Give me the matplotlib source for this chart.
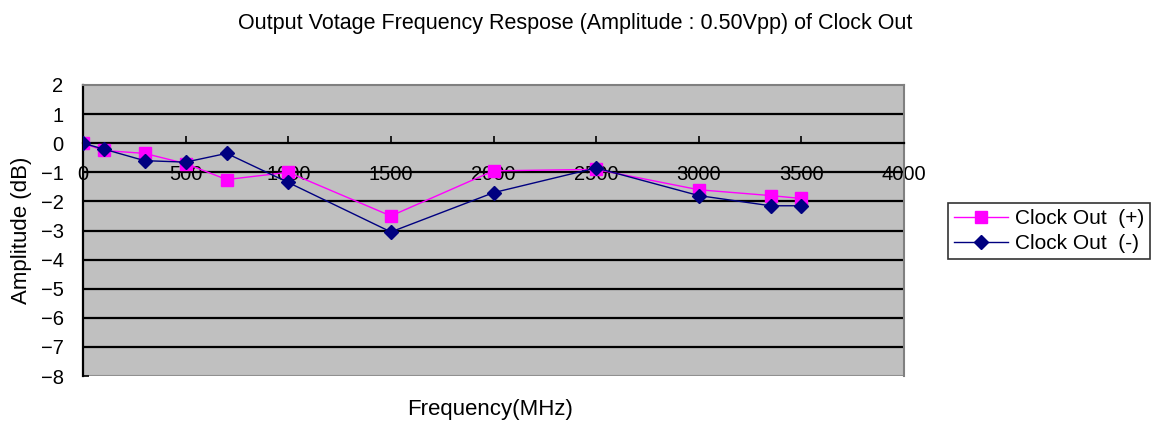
import matplotlib
matplotlib.use("Agg")
import matplotlib.pyplot as plt

freq = [0, 100, 300, 500, 700, 1000, 1500, 2000, 2500, 3000, 3350, 3500]
clk_pos = [0.0, -0.25, -0.35, -0.7, -1.25, -1.0, -2.5, -0.95, -0.9, -1.6, -1.8, -1.9]
clk_neg = [0.0, -0.2, -0.6, -0.65, -0.35, -1.35, -3.05, -1.7, -0.85, -1.8, -2.15, -2.15]
x_ticks = [0, 500, 1000, 1500, 2000, 2500, 3000, 3500, 4000]
y_ticks = [2, 1, 0, -1, -2, -3, -4, -5, -6, -7, -8]

plt.rcParams['font.family'] = ['Liberation Sans', 'Noto Sans CJK JP', 'DejaVu Sans']

fig = plt.figure(figsize=(11.57, 4.22), dpi=100)
ax = fig.add_axes([83/1157, 46/422, (904-83)/1157, (376-85)/422])
ax.set_facecolor('#C0C0C0')
ax.set_xlim(0, 4000)
ax.set_ylim(-8, 2)

for y in y_ticks:
    if y not in (2, -8, 0):
        ax.axhline(y, color='black', lw=1.6, zorder=1)
ax.axhline(-8, color='#909090', lw=1.5, zorder=1)

ax.plot(freq, clk_pos, color='#FF00FF', lw=1.0, marker='s', ms=8,
        mfc='#FF00FF', mec='#FF00FF', label='Clock Out  (+)', zorder=3)
ax.plot(freq, clk_neg, color='#000080', lw=1.0, marker='D', ms=7,
        mfc='#000080', mec='#000080', label='Clock Out  (-)', zorder=4)

ax.spines['bottom'].set_position(('data', 0))
ax.spines['bottom'].set_color('black')
ax.spines['bottom'].set_linewidth(1.6)
ax.spines['left'].set_color('black')
ax.spines['left'].set_linewidth(1.6)
for s in ('top', 'right'):
    ax.spines[s].set_color('#808080')
    ax.spines[s].set_linewidth(1.5)

ax.set_xticks(x_ticks)
ax.set_yticks(y_ticks)
ax.tick_params(axis='x', direction='in', length=5, width=1.2, pad=16, labelsize=14.5)
ax.tick_params(axis='y', direction='in', length=4, width=1.2, pad=14, labelsize=14.5)

fig.text(0.497, 0.945, 'Output Votage Frequency Respose (Amplitude : 0.50Vpp) of Clock Out',
         ha='center', va='center', fontsize=15.5)
fig.text(22/1157, (422-230)/422, 'Amplitude (dB)', rotation=90, ha='center', va='center', fontsize=16)
fig.text(490/1157, (422-410)/422, 'Frequency(MHz)', ha='center', va='center', fontsize=16)

leg = fig.legend(loc='center', bbox_to_anchor=(1049/1157, (422-231)/422), fontsize=15,
                 frameon=True, fancybox=False, edgecolor='black', handlelength=2.6,
                 borderpad=0.3, labelspacing=0.3, handletextpad=0.3)
leg.get_frame().set_linewidth(1.2)

fig.savefig('out.png', dpi=100)
